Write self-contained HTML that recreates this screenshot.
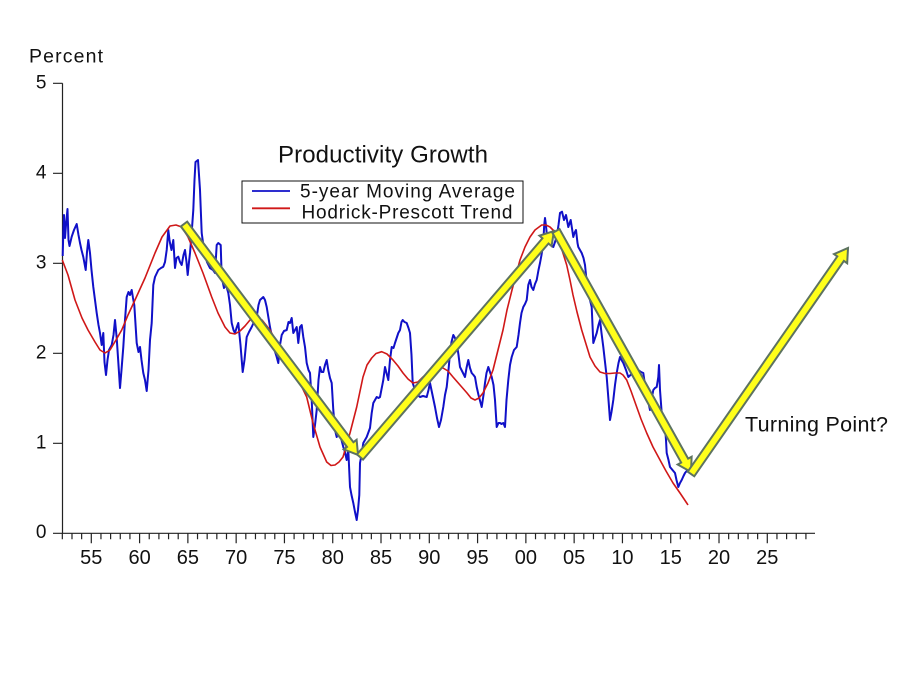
<!DOCTYPE html>
<html>
<head>
<meta charset="utf-8">
<style>
html,body{margin:0;padding:0;background:#fff;}
svg{display:block;}
text{font-family:"Liberation Sans",Arial,sans-serif;fill:#111;}
</style>
</head>
<body>
<svg width="900" height="675" viewBox="0 0 900 675" xmlns="http://www.w3.org/2000/svg">
<rect width="900" height="675" fill="#fff"/>

<!-- Axes -->
<g stroke="#222" stroke-width="1.2" fill="none">
  <path d="M62.5 83.3 V533.3 M53 533.3 H815"/>
  <path d="M53 83.3 H62.5 M53 173.3 H62.5 M53 263.3 H62.5 M53 353.3 H62.5 M53 443.3 H62.5"/>
  <path d="M62.33 533.3v6 M71.99 533.3v6 M81.64 533.3v6 M100.96 533.3v6 M110.61 533.3v6 M120.27 533.3v6 M129.93 533.3v6 M149.24 533.3v6 M158.90 533.3v6 M168.56 533.3v6 M178.21 533.3v6 M197.53 533.3v6 M207.18 533.3v6 M216.84 533.3v6 M226.50 533.3v6 M245.81 533.3v6 M255.47 533.3v6 M265.13 533.3v6 M274.78 533.3v6 M294.10 533.3v6 M303.75 533.3v6 M313.41 533.3v6 M323.07 533.3v6 M342.38 533.3v6 M352.04 533.3v6 M361.70 533.3v6 M371.35 533.3v6 M390.67 533.3v6 M400.32 533.3v6 M409.98 533.3v6 M419.64 533.3v6 M438.95 533.3v6 M448.61 533.3v6 M458.27 533.3v6 M467.92 533.3v6 M487.24 533.3v6 M496.89 533.3v6 M506.55 533.3v6 M516.21 533.3v6 M535.52 533.3v6 M545.18 533.3v6 M554.84 533.3v6 M564.49 533.3v6 M583.81 533.3v6 M593.46 533.3v6 M603.12 533.3v6 M612.78 533.3v6 M632.09 533.3v6 M641.75 533.3v6 M651.41 533.3v6 M661.06 533.3v6 M680.38 533.3v6 M690.03 533.3v6 M699.69 533.3v6 M709.35 533.3v6 M728.66 533.3v6 M738.32 533.3v6 M747.98 533.3v6 M757.63 533.3v6 M776.95 533.3v6 M786.60 533.3v6 M796.26 533.3v6 M805.92 533.3v6"/>
  <path d="M91.3 533.3v10 M139.59 533.3v10 M187.87 533.3v10 M236.16 533.3v10 M284.44 533.3v10 M332.73 533.3v10 M381.01 533.3v10 M429.30 533.3v10 M477.58 533.3v10 M525.87 533.3v10 M574.15 533.3v10 M622.44 533.3v10 M670.72 533.3v10 M719.01 533.3v10 M767.29 533.3v10"/>
</g>

<!-- Y labels -->
<text x="29" y="62.3" font-size="19.5" textLength="74">Percent</text>
<g font-size="19" text-anchor="end">
  <text x="46.5" y="88.5">5</text>
  <text x="46.5" y="178.5">4</text>
  <text x="46.5" y="268.5">3</text>
  <text x="46.5" y="358.5">2</text>
  <text x="46.5" y="448.5">1</text>
  <text x="46.5" y="538">0</text>
</g>
<!-- X labels -->
<g font-size="20" text-anchor="middle">
  <text x="91.3" y="564">55</text>
  <text x="139.59" y="564">60</text>
  <text x="187.87" y="564">65</text>
  <text x="236.16" y="564">70</text>
  <text x="284.44" y="564">75</text>
  <text x="332.73" y="564">80</text>
  <text x="381.01" y="564">85</text>
  <text x="429.30" y="564">90</text>
  <text x="477.58" y="564">95</text>
  <text x="525.87" y="564">00</text>
  <text x="574.15" y="564">05</text>
  <text x="622.44" y="564">10</text>
  <text x="670.72" y="564">15</text>
  <text x="719.01" y="564">20</text>
  <text x="767.29" y="564">25</text>
</g>

<!-- Blue series -->
<polyline fill="none" stroke="#1010c8" stroke-width="2" stroke-linejoin="round" points="
62.7,256 63.3,232 64,215 65,238 66,225 67.5,209 68.5,240 69.5,246 71.7,236.7 74,230 76.7,224 78.5,235 80,243 81.5,250 83.3,257 85.7,270 87,252 88.3,240 90,253 91.5,270 93.3,287 95,300 96.7,313 98.5,325 100,333 101.7,345 103.3,333 104.5,362 106,375 107.5,360 109,350 111.7,345 113.5,335 115,320 116.7,338 118.5,365 120,388 121.5,370 123.3,347 125,320 126.7,297 128.5,292 130,295 131.7,290 133,298 134.3,305 136.7,343 138.5,352 140,347 141.5,360 143.3,373 145,380 146.7,391 148.5,370 150,340 151.7,323 153.3,285 155,277 158.3,270 161,268 163.3,266.7 165,262 166.7,250 168.3,230 169.5,240 170,243 171.5,250 173.3,240 175,268 176.5,258 178.3,256.7 180,262 181.7,265 183.5,255 185,250 186.5,262 187.7,275 189,262 190,253 191.5,235 193.3,210 194.5,180 195.5,162 198,160 199,175 200,190 201.7,233 204,250 207,262 210,268 213,270 215,273 216.7,245 218.3,243 220.7,245 221.7,277 224,288 226,285 228.3,293 230,305 231.7,323 233.5,330 235,333 236.5,328 238.3,323 240.5,345 242.7,372 244.5,360 246.7,337 249,332 251.7,327 254,322 256.7,317 258.5,305 260,300 263.3,297 265,300 266.7,307 268.5,318 270,327 272.5,340 274.5,350 276.7,357 278.3,363 280,345 281.7,335 284,331 286.7,330 288.5,322 290,323 291.7,318 293.3,333 295,330 296.7,327 298.3,343 300,327 301.7,325 303.3,337 305,347 306.7,363 308.5,370 310,373 311.7,400 313.3,437 315,425 316.7,410 318.5,380 320,367 321.5,372 323.3,372 325,365 326.7,360 328.3,370 330,378 331.7,383 333.3,410 335,430 336.7,437 338.5,432 340,433 341.5,440 343.3,447 345,452 346.7,460 348.3,450 350,487 351.5,495 353.3,503 355,512 356.7,520 358,510 359.3,495 360,463 361.5,455 363.3,443 366.7,437 370,428 371.7,413 373.3,403 376.7,397 378.5,398 380,397 383.3,380 385,367 386.5,373 388.3,380 390,360 391.7,347 393.5,348 395,343 398.3,333 400,330 401.5,322 402.7,320 404.5,322 406.7,323 408.5,328 410,333 411.5,355 412.7,383 415,390 417.5,395 420,397 423,396 426.7,397 428.5,390 430,383 432.5,395 435,407 437,418 439,427 441,420 443.3,407 445,395 446.7,387 448.5,370 450,353 451.5,342 453.3,335 455,338 456.7,343 458.5,355 460,367 462.5,372 465,377 466.5,368 468.3,360 470,368 471.7,373 473.5,375 475,377 476.7,387 478.5,395 481.7,407 483.5,395 485,383 486.5,373 488.3,367 490,372 491.7,377 493.5,385 495,400 496.7,427 498.5,423 500,423 501.5,424 503.3,423 505,427 506.5,400 508.3,380 510,365 511.7,357 514,350 516.7,347 518.5,335 520,323 521.5,313 523.3,307 525,304 526.7,300 528.3,285 530,280 531.5,287 533.3,290 535,284 536.7,280 538.5,270 540,263 541.5,255 543.3,243 544.2,225 545,218 546,226 546.7,233 548.5,238 550,243 551.5,245 553.3,247 555,242 556.7,237 558.5,225 560,213 562,211.7 564,220 566,215 568.3,227 570.7,220 573.3,237 574.5,233 576,230 577.5,243 578.3,247 580,250 581.7,253 583.5,258 585,265 586.5,280 588.3,293 590,300 591.7,307 592.5,325 593.3,343 595,338 596.7,333 598.5,325 600,320 601.5,333 603.3,347 605,362 606.7,377 608.5,400 610,420 611.5,412 613.3,400 615,385 616.7,373 618.5,363 620,357 621.5,360 623.3,363 626,370 628.3,377 630.5,375 633.3,373 636,371 638.3,370 641,372 643.3,373 645,385 646.7,393 648.3,402 650,410 651.5,400 653.3,390 655,388 656.7,387 658.3,377 659,365 660,390 661.7,413 663.5,420 665,427 666,440 666.7,453 668.5,460 670,467 672.5,470 675,473 676.5,480 678.3,487 680,483 681.7,480 683.5,476 685,473 686.7,471 688.3,470"/>

<!-- Red series -->
<polyline fill="none" stroke="#d01818" stroke-width="1.6" stroke-linejoin="round" points="
62.3,260 68,275 75,300 82,318 88,330 95,342 100,350 105,353 110,350 116,340 121.7,330 128,315 135,300 145,278 155,253 162,237 170,226 176,225 181.7,227 188,237 195,253 203,273 211.7,297 218,313 225,327 230,333 235,334 240,331 245,326 250,320 255,318 262,320 270,330 280,348 290,365 300,383 306.7,397 313,423 320,447 326.7,462 331,465.5 335,465 339,462 343,457 350,433 356.7,407 363,377 367,365 371.7,358 376,353.5 381.7,351.7 387,354 393,360 398,366 403,373 408,379 413,383 418,382 423,377 428,373 433,370 438,368 443,368 448,371 453,377 460,385 467,393 471,398 475,400 479,398 483,393 488,383 493,370 498,350 503,330 507,310 512,290 516,275 520,260 525,247 530,237 535,230 541.7,225 546,225 550,227 555,232 558,238 562,250 566.7,265 570,280 573,295 577,312 581.7,330 586,344 590,357 595,366 600,372 605,373.5 610,373.5 615,373 620,373 623,375 626.7,380 631,391 636.7,407 641,419 646.7,433 653,447 660,460 666,471 673,483 680,493 686.7,503 688,505"/>

<!-- Arrows -->
<g fill="#ffff1a" stroke="#5d7360" stroke-width="2" stroke-linejoin="miter">
  <polygon transform="translate(184,224) rotate(53.0)" points="0,-4 276.2,-4 276.2,-8 289.2,0 276.2,8 276.2,4 0,4"/>
  <polygon transform="translate(360,457) rotate(-49.36)" points="0,-4 284.8,-4 284.8,-8 297.8,0 284.8,8 284.8,4 0,4"/>
  <polygon transform="translate(556,231) rotate(60.74)" points="0,-4 263.2,-4 263.2,-8 276.2,0 263.2,8 263.2,4 0,4"/>
  <polygon transform="translate(691,474) rotate(-55.21)" points="0,-4 262.2,-4 262.2,-8 275.2,0 262.2,8 262.2,4 0,4"/>
</g>

<!-- Legend -->
<text x="278" y="162.5" font-size="24" textLength="210">Productivity Growth</text>
<rect x="242" y="181" width="281" height="42" fill="#fff" stroke="#111" stroke-width="1"/>
<line x1="252" y1="191" x2="290" y2="191" stroke="#1010c8" stroke-width="1.8"/>
<line x1="252" y1="208.3" x2="290" y2="208.3" stroke="#d01818" stroke-width="1.8"/>
<text x="300" y="197.5" font-size="19" textLength="215">5-year Moving Average</text>
<text x="301.5" y="218.5" font-size="19" textLength="211">Hodrick-Prescott Trend</text>

<!-- Annotation -->
<text x="745" y="431.5" font-size="21.5" textLength="143">Turning Point?</text>
</svg>
</body>
</html>
